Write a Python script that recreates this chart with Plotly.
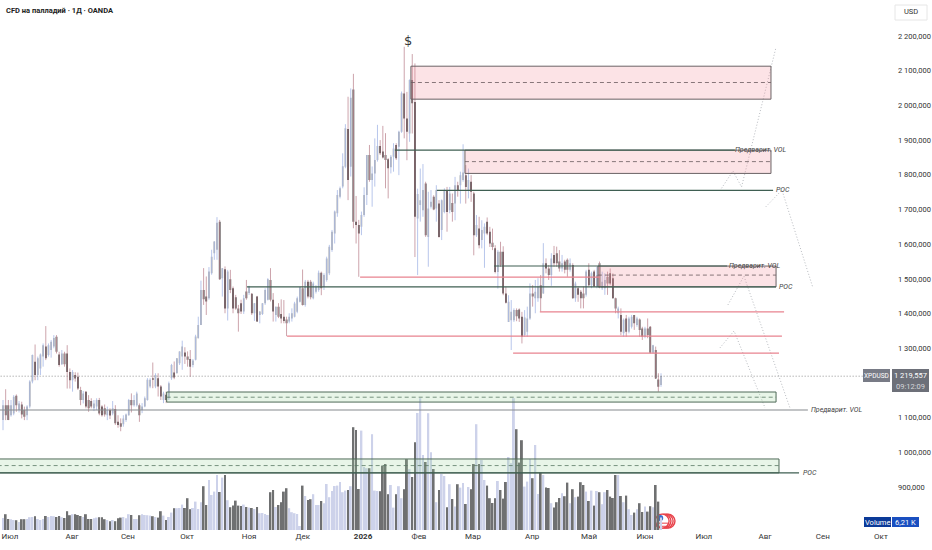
import plotly.graph_objects as go

# свечи XPDUSD, номер бара = позиция на оси
open_ = [1093,1136,1136,1107,1112,1163,1122,1138,1122,1107,
         1132,1204,1261,1223,1242,1276,1305,1281,1295,1305,
         1333,1282,1254,1285,1285,1232,1208,1223,1218,1180,
         1151,1175,1151,1148,1127,1132,1151,1132,1127,1107,
         1122,1112,1125,1088,1084,1081,1093,1107,1151,1136,
         1136,1136,1122,1132,1151,1190,1214,1190,1214,1190,
         1151,1166,1156,1214,1230,1228,1257,1276,1288,1276,
         1269,1252,1267,1329,1367,1468,1449,1444,1516,1574,
         1584,1665,1502,1528,1415,1499,1473,1447,1415,1430,
         1406,1464,1459,1457,1401,1449,1396,1399,1430,1440,
         1497,1440,1396,1420,
         1399,1391,1383,1377,1386,1391,1405,1434,1473,1425,
         1492,1492,1444,1463,1468,1518,1477,1497,1516,1583,
         1631,1689,1737,1766,1823,1932,1823,2046,1665,1655,
         1650,1684,1742,1857,1785,1804,1843,1883,1867,1857,
         1845,1822,1852,1886,1881,1924,2034,1962,1919,2073,
         2010,1674,1713,1698,1775,1621,1708,1737,1703,1717,
         1641,1693,1756,1698,1719,1717,1770,1770,1785,1799,
         1756,1780,1746,1626,1645,1612,1631,1665,1636,1604,
         1588,1520,1578,1578,1458,1376,1381,1381,1410,1412,1391,
         1338,1348,1386,1458,1444,1444,1482,1458,
         1545,1530,1511,1569,1574,1550,1530,1550,1555,1526,
         1540,1444,1473,1463,1458,1454,1526,1482,1521,1478,
         1545,1473,1473,1506,1516,1502,1444,1401,1396,1343,
         1386,1348,1362,1396,1367,1383,1357,1333,1357,1362,
         1287,1295,1210,1194]
high = [1151,1182,1151,1151,1165,1167,1148,1146,1132,1136,
        1208,1282,1311,1276,1285,1314,1364,1314,1324,1338,
        1338,1290,1295,1290,1309,1242,1237,1231,1230,1189,
        1177,1177,1165,1156,1151,1156,1157,1136,1138,1132,
        1127,1148,1136,1107,1098,1107,1112,1154,1170,1165,
        1175,1141,1142,1161,1214,1214,1259,1228,1228,1194,
        1175,1175,1204,1255,1262,1271,1291,1322,1303,1291,
        1295,1269,1339,1391,1495,1531,1507,1534,1584,1608,
        1678,1670,1531,1536,1526,1526,1478,1454,1425,1440,
        1454,1497,1480,1459,1430,1451,1406,1430,1473,1502,
        1531,1459,1420,1430,
        1441,1439,1391,1401,1415,1434,1449,1477,1527,1497,
        1497,1497,1492,1482,1524,1521,1516,1564,1598,1641,
        1697,1756,1766,1862,1946,2025,2049,2091,1739,1670,
        1694,1764,1857,1886,1824,1905,1944,1900,1941,1920,
        1848,1857,1891,1891,1927,2040,2169,2039,2075,2148,
        2121,1760,1818,1831,1780,1751,1756,1741,1770,1727,
        1729,1761,1765,1765,1746,1794,1780,1809,1888,1828,
        1818,1799,1751,1684,1679,1669,1660,1677,1650,1645,
        1597,1583,1607,1594,1477,1453,1439,1415,1415,1415,1405,
        1410,1420,1487,1482,1497,1502,1511,1603,
        1559,1540,1574,1595,1593,1583,1569,1555,1559,1559,
        1545,1492,1478,1468,1478,1526,1545,1521,1526,1535,
        1550,1521,1516,1521,1530,1516,1446,1420,1415,1386,
        1396,1391,1396,1396,1391,1386,1362,1362,1386,1364,
        1310,1305,1228,1228]
low = [1064,1093,1093,1103,1107,1117,1115,1098,1093,1093,
       1127,1199,1208,1208,1223,1247,1266,1276,1273,1300,
       1285,1247,1252,1247,1184,1184,1175,1204,1180,1136,
       1141,1127,1117,1127,1119,1122,1107,1103,1103,1093,
       1096,1107,1079,1071,1061,1074,1088,1106,1115,1132,
       1132,1088,1113,1130,1149,1185,1185,1185,1161,1151,
       1142,1142,1151,1209,1211,1228,1252,1238,1255,1247,
       1218,1245,1265,1329,1367,1425,1396,1440,1512,1555,
       1555,1497,1449,1401,1380,1459,1401,1411,1348,1399,
       1399,1440,1454,1396,1379,1377,1372,1396,1425,1438,
       1435,1377,1377,1387,
       1372,1372,1335,1372,1377,1389,1401,1432,1423,1420,
       1444,1441,1441,1458,1463,1453,1468,1492,1511,1578,
       1602,1679,1732,1761,1819,1727,1795,1646,1602,1506,
       1626,1679,1713,1780,1708,1766,1838,1857,1847,1761,
       1732,1804,1809,1843,1799,1921,1905,1842,1895,1919,
       1563,1511,1665,1679,1621,1535,1703,1698,1665,1619,
       1612,1689,1636,1689,1665,1669,1737,1717,1780,1717,
       1732,1722,1568,1621,1588,1588,1532,1626,1592,1583,
       1516,1472,1535,1453,1429,1376,1295,1376,1378,1376,1314,
       1333,1333,1382,1420,1401,1434,1406,1458,
       1516,1497,1480,1535,1535,1521,1521,1516,1506,1521,
       1444,1434,1434,1415,1415,1449,1478,1473,1478,1473,
       1473,1468,1454,1454,1482,1444,1401,1386,1338,1333,
       1333,1343,1357,1353,1362,1333,1324,1329,1329,1285,
       1285,1213,1175,1189]
close = [1136,1107,1093,1136,1160,1136,1141,1109,1103,1132,
         1204,1281,1223,1271,1282,1309,1271,1309,1319,1330,
         1290,1252,1285,1254,1232,1208,1232,1213,1184,1151,
         1170,1132,1127,1132,1141,1151,1112,1107,1109,1122,
         1106,1127,1084,1079,1074,1098,1109,1151,1136,1151,
         1170,1107,1132,1156,1209,1209,1209,1223,1190,1161,
         1170,1151,1199,1252,1216,1271,1291,1305,1276,1267,
         1247,1265,1334,1367,1468,1441,1435,1521,1564,1608,
         1662,1499,1531,1415,1521,1468,1415,1415,1401,1406,
         1444,1444,1478,1401,1430,1377,1406,1430,1468,1499,
         1440,1406,1420,1391,
         1386,1379,1372,1391,1401,1429,1444,1476,1425,1492,
         1449,1447,1487,1477,1518,1473,1511,1559,1593,1636,
         1694,1742,1761,1825,1934,1785,2022,1665,1655,1631,
         1684,1742,1857,1785,1804,1843,1883,1862,1850,1843,
         1819,1852,1876,1848,1924,2035,1962,1924,2073,2006,
         1679,1745,1727,1756,1626,1703,1722,1700,1756,1621,
         1727,1756,1693,1746,1693,1770,1756,1799,1807,1765,
         1785,1751,1626,1655,1597,1641,1650,1631,1602,1592,
         1520,1578,1540,1458,1431,1434,1405,1410,1392,1386,1333,
         1389,1386,1458,1449,1463,1478,1444,1545,
         1530,1511,1559,1545,1545,1530,1545,1526,1526,1545,
         1444,1487,1454,1444,1444,1521,1482,1516,1478,1511,
         1478,1492,1497,1487,1487,1444,1415,1415,1348,1382,
         1348,1386,1391,1372,1386,1353,1333,1357,1338,1287,
         1309,1213,1189,1220]
volume = [6,7.9,5.5,5.4,5,4.9,4,5.4,5.4,5.5,
          6.4,6.5,6.9,5.5,5,5.5,7,6.5,7,6.9,
          6.5,7,6.4,6,9.4,7.4,7.9,7.9,7.5,7,
          6.5,7.9,5.5,5.5,5.9,6.2,6.4,6.4,5.4,5,
          4.4,5,4.4,5.9,6.2,6.5,5.9,7.9,7.5,5.5,
          5.5,7.4,7.9,7.5,7.4,7.2,6.9,6.5,6.2,9.4,
          7.2,5,6.5,8.7,10.9,10.9,11,12.7,11,15.9,
          10.4,11,14.2,10.5,13.9,21.9,12.5,25,17.5,19.2,
          27.5,19,26.2,27.5,14.9,11.4,12.2,14.7,12.2,12,
          12.7,11.5,11.2,11,10.5,11.5,8.4,8.5,8,7.5,
          18.9,20,11.5,12.5,13.9,19.2,20.9,10.9,8.9,8.4,
          8,2,22.2,17,15,15.4,17.9,12.5,12.5,14.5,
          13.4,23,16.4,19.5,22,
          22.2,24,18.9,19.7,20,
          21.9,51.4,50,20.5,49.7,31.5,30.9,30.9,47.9,19.7,
          19.5,19.4,32.2,33,17.9,22.5,11.2,17.9,21.9,15.9,
          20.4,35.4,30.4,26.5,43.9,58.5,65.9,37.5,34,58.4,
          38.9,30.5,13.9,20,28,27,11.4,22.9,15.5,11.7,
          22.9,21.2,23.5,13,21.5,20.4,33,52.9,33,35,
          25,22.2,15.9,13.5,15.9,24.5,20,15.7,24,36.5,
          33.4,65.9,50.4,33.7,44.9,21.7,24.2,35.4,25.9,42.5,
          18,28.7,27.5,21.2,21,13.4,11.2,13.9,16,18.4,
          16.9,23.7,13.4,20.4,16.4,16.7,23.9,22.5,19.2,14.5,
          19.7,12.2,19.5,18.9,12.9,18.9,20,16.7,16,27.5,
          27.5,17,13.9,17.2,10.4,7.5,8.7,10.4,13.4,9,
          11.7,9.2,11.9,11.4,22.5,14.2,6.21]

assert len(open_) == len(high) == len(low) == len(close) == len(volume)
bars = list(range(len(close)))

last_price = 1219.557

# оси
month_pos = [2.6,25.8,46.7,68.8,92,112.1,134.6,155.5,175.7,197.8,219.1,240,262,284.9,306.5,328.2]
month_txt = ["Июл","Авг","Сен","Окт","Ноя","Дек","<b>2026</b>","Фев","Мар","Апр","Май","Июн","Июл","Авг","Сен","Окт"]
price_ticks = [2200,2100,2000,1900,1800,1700,1600,1500,1400,1300,1100,1000,900]
price_txt = ["2 200,000","2 100,000","2 000,000","1 900,000","1 800,000","1 700,000","1 600,000",
             "1 500,000","1 400,000","1 300,000","1 100,000","1 000,000","900,000"]

# зоны продаж / покупок: левый бар, правый бар, верх, низ, середина
red_left = [152.5,172.7,222.4]
red_right = [287.1,287.1,289]
red_top = [2113,1871,1537]
red_bot = [2018,1804,1477]
red_mid = [2066,1838,1511]

green_left = [61.2,-2]
green_right = [289,290.1]
green_top = [1174,981]
green_bot = [1145,941]
green_mid = [1159,962]

# горизонтальные уровни
level_left = [146.5,162.2,183.6,91.2,-2,-2]
level_right = [273.6,287.9,270.7,289,300.9,297.6]
level_price = [1871,1755,1537,1477,1122,941]
level_name = ["Предварит. VOL","POC","Предварит. VOL","POC","Предварит. VOL","POC"]
label_bar = [272.9,288.2,270.8,289.2,301.2,298.2]

red_line_left = [133.5,200.7,106.2,190.7]
red_line_right = [223.2,292,291.2,290.1]
red_line_price = [1505,1405,1335,1286]

# пунктирные сценарии
path_bars = [[268,272.9,276.1,289],[285.2,291.2,302.8],[271,277,294.2],[268,273.3,284.9]]
path_prices = [[1754,1811,1765,2168],[1708,1756,1474],[1425,1508,1128],[1301,1350,1128]]

UP_BODY = "#a0a0a0"
DOWN_BODY = "#0a0a0a"
UP_WICK = "#b0bfe9"
DOWN_WICK = "#c79aa3"

fig = go.Figure()

# объём на своей оси снизу
vol_colors = ["#cdd2ea" if c >= o else "#6f7071" for o, c in zip(open_, close)]
fig.add_trace(go.Bar(x=bars, y=volume, yaxis="y2", marker=dict(color=vol_colors, line_width=0), width=0.7))

# тени отдельно, цвет тела и тени разный
for is_up, col in [(True, UP_WICK), (False, DOWN_WICK)]:
    xs, ys = [], []
    for b, o, h, l, c in zip(bars, open_, high, low, close):
        if (c >= o) == is_up:
            xs += [b, b, None]
            ys += [l, h, None]
    fig.add_trace(go.Scatter(x=xs, y=ys, mode="lines", line=dict(color=col, width=0.9), hoverinfo="skip"))

fig.add_trace(go.Candlestick(
    x=bars, open=open_, high=high, low=low, close=close,
    increasing=dict(fillcolor=UP_BODY, line=dict(color=UP_BODY, width=0)),
    decreasing=dict(fillcolor=DOWN_BODY, line=dict(color=DOWN_BODY, width=0)),
))

for xs, ys in zip(path_bars, path_prices):
    fig.add_trace(go.Scatter(
        x=xs, y=ys, mode="lines+markers",
        line=dict(color="#a4a8ae", width=0.8, dash="1px,2px"),
        marker=dict(symbol="arrow-open", angleref="previous", size=[0]*(len(xs)-1)+[6],
                    color="rgba(0,0,0,0)", line=dict(color="#a4a8ae", width=0.7)),
    ))

# иконка события на графике
fig.add_trace(go.Scatter(
    x=[248.6,247.9,247.1,246.4], y=[802,802,802,802], mode="markers",
    marker=dict(size=14, color="white", line=dict(color="#e8424a", width=1.4)),
))
fig.add_trace(go.Scatter(
    x=[246.4,246.4], y=[796,787], mode="markers",
    marker=dict(symbol="line-ew", size=9, line=dict(color="#e8424a", width=1)),
))
fig.add_trace(go.Scatter(
    x=[245.7], y=[811], mode="markers",
    marker=dict(size=6, color="#3c6fd0"),
))

shapes = []
for left, right, top, bot, mid in zip(red_left, red_right, red_top, red_bot, red_mid):
    shapes.append(dict(type="rect", x0=left, x1=right, y0=bot, y1=top, fillcolor="rgba(244,140,150,0.24)",
                       line=dict(color="#6a6265", width=1)))
    shapes.append(dict(type="line", x0=left, x1=right, y0=mid, y1=mid, line=dict(color="#6a5a5e", width=0.8, dash="4px,3px")))
for left, right, top, bot, mid in zip(green_left, green_right, green_top, green_bot, green_mid):
    shapes.append(dict(type="rect", x0=left, x1=right, y0=bot, y1=top, fillcolor="rgba(150,210,150,0.22)",
                       line=dict(color="#4f6a58", width=1)))
    shapes.append(dict(type="line", x0=left, x1=right, y0=mid, y1=mid, line=dict(color="#5b7a64", width=0.8, dash="4px,3px")))
for left, right, price in zip(level_left, level_right, level_price):
    col = "#858a8d" if price == 1122 else "#3f5f52"
    shapes.append(dict(type="line", x0=left, x1=right, y0=price, y1=price, line=dict(color=col, width=1.1)))
for left, right, price in zip(red_line_left, red_line_right, red_line_price):
    shapes.append(dict(type="line", x0=left, x1=right, y0=price, y1=price, line=dict(color="#e8838f", width=1.3)))

# линия текущей цены
shapes.append(dict(type="line", x0=-2, x1=322, y0=last_price, y1=last_price, line=dict(color="#777", width=0.8, dash="1px,2px")))

# плашки справа, координаты в долях области графика
PW = 890.0
PH = 530.0
def box(x0, x1, y0, y1, fill, line="rgba(0,0,0,0)"):
    return dict(type="rect", xref="paper", yref="paper", x0=x0/PW, x1=x1/PW, y0=(PH-y1)/PH, y1=(PH-y0)/PH,
                fillcolor=fill, line=dict(color=line, width=1))
shapes.append(box(863, 890, 369, 382, "#787b86"))
shapes.append(box(892, 929, 369, 392, "#6d7079"))
shapes.append(box(864, 891, 517, 527, "#0b3a98"))
shapes.append(box(892, 919, 517, 527, "#1a4fc0"))
shapes.append(box(895, 927, 5, 20, "white", "#e6e6e6"))

annotations = []
for name, bar_x, price in zip(level_name, label_bar, level_price):
    annotations.append(dict(x=bar_x, y=price, xref="x", yref="y", text=f"<i>{name}</i>", showarrow=False,
                            xanchor="left", font=dict(family="Roboto", size=7, color="#444")))

def note(x, y, text, size=8, color="#333", anchor="center", font="Roboto"):
    annotations.append(dict(x=x/PW, y=(PH-y)/PH, xref="paper", yref="paper", text=text, showarrow=False,
                            xanchor=anchor, yanchor="middle", font=dict(family=font, size=size, color=color)))
note(4, 11, "<b>CFD на палладий · 1Д · OANDA</b>", size=7.5, color="#222", anchor="left")
note(911, 12, "USD", size=7.5)
note(876.5, 375.5, "XPDUSD", size=6.5, color="white")
note(910.5, 375, "1 219,557", size=7.5, color="white")
note(910.5, 386, "09:12:09", size=7.5, color="#d5d6da")
note(877.5, 522, "Volume", size=7.5, color="white")
note(905.5, 522, "6,21 K", size=7.5, color="white")
# знак доллара над максимумом
annotations.append(dict(x=151.3, y=2188, xref="x", yref="y", text="$", showarrow=False, font=dict(family="DejaVu Sans", size=13, color="#333")))

fig.update_layout(
    width=932, height=550,
    # autoexpand выключен, иначе подписи справа сжимают область графика
    margin=dict(l=0, r=42, t=0, b=20, autoexpand=False),
    paper_bgcolor="white", plot_bgcolor="white",
    showlegend=False, hovermode=False, boxgap=0.15,
    shapes=shapes, annotations=annotations,
    xaxis=dict(range=[-1.12,331.6], tickvals=month_pos, ticktext=month_txt, showgrid=False, zeroline=False,
               showline=False, ticks="", rangeslider=dict(visible=False), ticklabeloverflow="allow",
               tickfont=dict(family="Roboto", size=8, color="#333")),
    yaxis=dict(range=[776.3,2303.8], side="right", tickvals=price_ticks, ticktext=price_txt, showgrid=False,
               zeroline=False, showline=False, ticks="", ticklabelstandoff=7, ticklabeloverflow="allow",
               tickfont=dict(family="Roboto", size=7.5, color="#333")),
    yaxis2=dict(range=[0,265], overlaying="y", side="left", visible=False, showgrid=False, zeroline=False),
)

# у страницы по умолчанию отступ 8px
fig.write_html("out.html", config={"displayModeBar": False},
               post_script="document.body.style.margin='0';")
